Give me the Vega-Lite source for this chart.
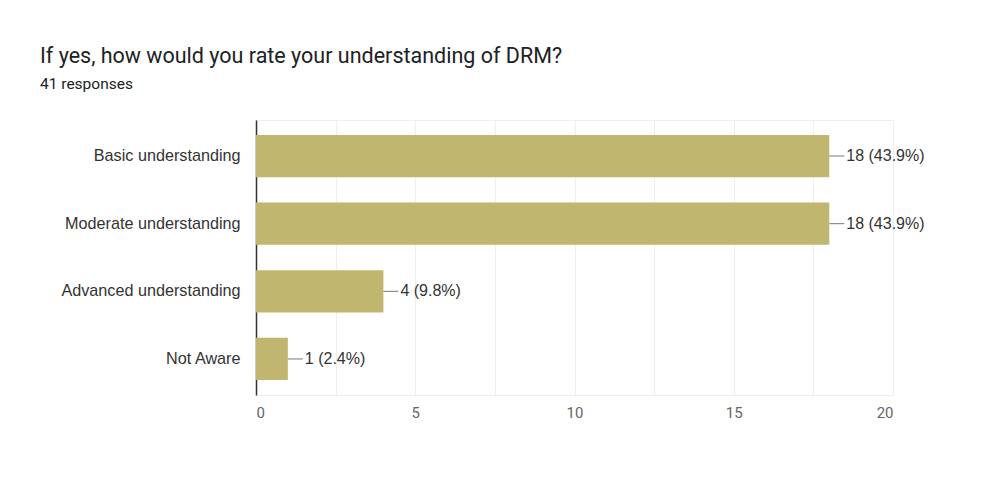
{
  "$schema": "https://vega.github.io/schema/vega-lite/v6.json",
  "autosize": "none",
  "width": 637,
  "height": 275,
  "padding": {"left": 256, "top": 120, "right": 90, "bottom": 82},
  "background": "white",
  "title": {
    "text": "If yes, how would you rate your understanding of DRM?",
    "subtitle": "41 responses",
    "anchor": "start",
    "frame": "group",
    "dx": -216,
    "offset": 28,
    "font": "Roboto",
    "fontSize": 21.5,
    "fontWeight": "normal",
    "color": "#202124",
    "subtitleFont": "Roboto",
    "subtitleFontSize": 15.5,
    "subtitleColor": "#202124",
    "subtitlePadding": 9
  },
  "data": {
    "values": [
      {"answer": "Basic understanding", "count": 18, "label": "18 (43.9%)"},
      {"answer": "Moderate understanding", "count": 18, "label": "18 (43.9%)"},
      {"answer": "Advanced understanding", "count": 4, "label": "4 (9.8%)"},
      {"answer": "Not Aware", "count": 1, "label": "1 (2.4%)"}
    ]
  },
  "config": {
    "view": {"stroke": "#eeeeee"},
    "font": "Roboto"
  },
  "encoding": {
    "y": {
      "field": "answer",
      "type": "nominal",
      "sort": null,
      "scale": {"paddingInner": 0.375, "paddingOuter": 0.22},
      "axis": {
        "title": null,
        "ticks": false,
        "domainColor": "#333333",
        "domainWidth": 1.5,
        "labelFont": "Liberation Sans",
        "labelFontSize": 16.2,
        "labelColor": "#333333",
        "labelPadding": 16
      }
    }
  },
  "layer": [
    {
      "mark": {"type": "bar", "color": "#c1b66f"},
      "encoding": {
        "x": {
          "field": "count",
          "type": "quantitative",
          "scale": {"domain": [0, 20], "nice": false},
          "axis": {
            "title": null,
            "values": [0, 2.5, 5, 7.5, 10, 12.5, 15, 17.5, 20],
            "labelExpr": "datum.value % 5 === 0 ? datum.label : ''",
            "grid": true,
            "gridColor": "#eeeeee",
            "domain": false,
            "ticks": false,
            "labelFont": "Roboto",
            "labelFontSize": 15,
            "labelColor": "#666666",
            "labelPadding": 10
          }
        }
      }
    },
    {
      "mark": {"type": "rule", "color": "#777777", "strokeWidth": 1, "x2Offset": 15},
      "encoding": {
        "x": {"field": "count", "type": "quantitative"},
        "x2": {"field": "count"}
      }
    },
    {
      "mark": {"type": "text", "align": "left", "baseline": "middle", "dx": 17, "fontSize": 16, "color": "#333333", "font": "Liberation Sans"},
      "encoding": {
        "x": {"field": "count", "type": "quantitative"},
        "text": {"field": "label"}
      }
    }
  ]
}
